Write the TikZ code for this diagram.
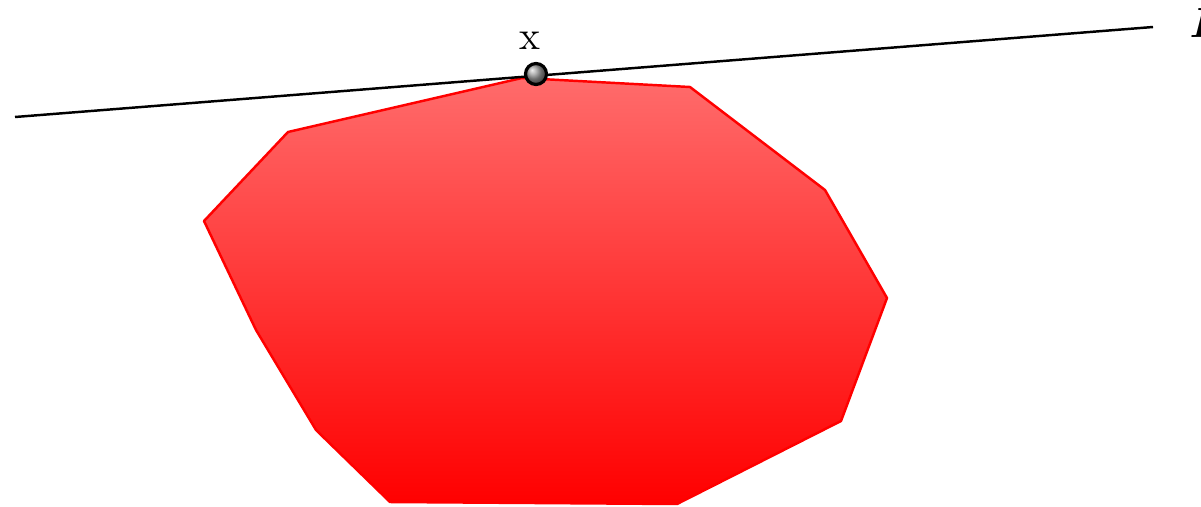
\documentclass[tikz,border=0pt]{standalone}
\usepackage{bm}
\usetikzlibrary{shadings}
\begin{document}
\begin{tikzpicture}[x=0.01cm,y=-0.01cm,
  region/.style={draw=red,line width=0.7pt,top color=red!58,bottom color=red,line join=round},
  tangent/.style={draw=black,line width=0.7pt},
  pt/.style={circle,draw=black,line width=0.9pt,inner sep=0pt,minimum size=0.21cm,ball color=gray!80},
  lbl/.style={inner sep=0pt,font=\fontsize{11.5}{13}\selectfont}]
\useasboundingbox (0,0) rectangle (1201,506);
\coordinate (p1) at (288,132);
\coordinate (p2) at (522,78);
\coordinate (p3) at (690,87);
\coordinate (p4) at (825,190);
\coordinate (p5) at (887,298);
\coordinate (p6) at (841,421);
\coordinate (p7) at (677,504);
\coordinate (p8) at (390,502);
\coordinate (p9) at (316,430);
\coordinate (p10) at (256,330);
\coordinate (p11) at (204,221);
\path[region] (p1) -- (p2) -- (p3) -- (p4) -- (p5) -- (p6) -- (p7) -- (p8) -- (p9) -- (p10) -- (p11) -- cycle;
\coordinate (l1) at (15,117);
\coordinate (l2) at (1153,27);
\draw[tangent] (l1) -- (l2);
\node[pt] (x) at (536,74) {};
\node[lbl,anchor=base] (xl) at (530,49) {x};
\node[lbl,anchor=base west] (H) at (1189,37) {$\bm{H}$};
\end{tikzpicture}
\end{document}
